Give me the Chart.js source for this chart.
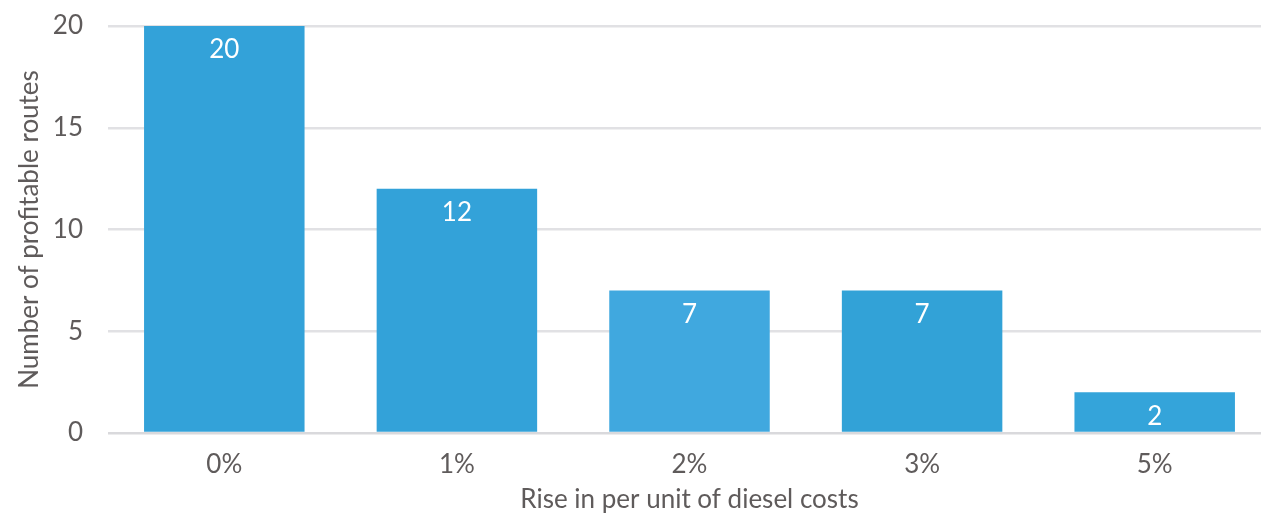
<!DOCTYPE html>
<html>
<head>
<meta charset="utf-8">
<script src="https://cdn.jsdelivr.net/npm/chart.js@4/dist/chart.umd.min.js"></script>
<style>
  html, body { margin: 0; padding: 0; background: #ffffff; overflow: hidden; }
  #wrap { width: 1271px; height: 515px; }
</style>
</head>
<body>
<div id="wrap"><canvas id="c" width="1271" height="515"></canvas></div>
<script>
// Profitable routes at each rise in per-unit diesel cost
const categories = ['0%', '1%', '2%', '3%', '5%'];
const routes = [20, 12, 7, 7, 2];
const yTicks = [0, 5, 10, 15, 20];
const barColors = ['#33a2d9', '#33a2d9', '#40a8df', '#32a2d7', '#34a4da'];

const textGray = '#5f5b5b';
const fontFamily = 'Lato, "Open Sans", sans-serif';
const fontSize = 26;

// White value labels drawn inside the top of each bar
const valueLabels = {
  id: 'valueLabels',
  afterDatasetsDraw(chart) {
    const ctx = chart.ctx;
    const meta = chart.getDatasetMeta(0);
    ctx.save();
    ctx.fillStyle = '#ffffff';
    ctx.font = fontSize + 'px ' + fontFamily;
    ctx.textAlign = 'center';
    ctx.textBaseline = 'middle';
    meta.data.forEach((bar, i) => {
      ctx.fillText(String(routes[i]), bar.x, bar.y + 24);
    });
    ctx.restore();
  }
};

new Chart(document.getElementById('c'), {
  type: 'bar',
  data: {
    labels: categories,
    datasets: [{
      data: routes,
      backgroundColor: barColors,
      borderWidth: 0,
      barPercentage: 0.69,
      categoryPercentage: 1.0
    }]
  },
  options: {
    responsive: false,
    animation: false,
    events: [],
    layout: { padding: { top: 26, right: 0, bottom: 0, left: 0 } },
    plugins: { legend: { display: false }, tooltip: { enabled: false } },
    scales: {
      x: {
        grid: { display: false, drawTicks: false },
        border: { display: false },
        ticks: { color: textGray, font: { family: fontFamily, size: fontSize }, padding: 16 },
        title: {
          display: true,
          text: 'Rise in per unit of diesel costs',
          color: textGray,
          font: { family: fontFamily, size: fontSize },
          padding: { top: 2, bottom: 0 }
        },
        afterFit(scale) {
          scale.height = 82;
          scale.paddingLeft = 0;
          scale.paddingRight = 0;
        }
      },
      y: {
        min: 0,
        max: 20,
        afterBuildTicks(scale) { scale.ticks = yTicks.map(v => ({ value: v })); },
        grid: {
          color: (c) => c.tick && c.tick.value === 0 ? '#d9d9dc' : '#e1e1e4',
          lineWidth: 2.5,
          drawTicks: false
        },
        border: { display: false },
        ticks: { color: textGray, font: { family: fontFamily, size: fontSize }, padding: 25 },
        title: {
          display: true,
          text: 'Number of profitable routes',
          color: textGray,
          font: { family: fontFamily, size: fontSize },
          padding: { top: 14, bottom: 0 }
        },
        afterFit(scale) {
          scale.width = 108;
          scale.paddingTop = 0;
          scale.paddingBottom = 0;
        }
      }
    }
  },
  plugins: [valueLabels]
});
</script>
</body>
</html>
